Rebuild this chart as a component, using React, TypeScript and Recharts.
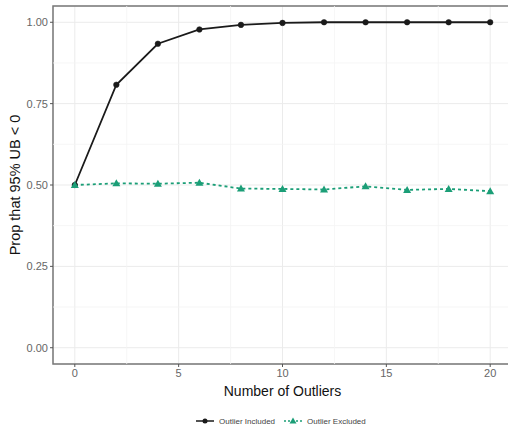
import React from 'react';
import {
  LineChart,
  Line,
  XAxis,
  YAxis,
  CartesianGrid,
  ReferenceLine,
  ReferenceArea,
} from 'recharts';

// Values
const outliers = [0, 2, 4, 6, 8, 10, 12, 14, 16, 18, 20];
const included = [0.5, 0.808, 0.934, 0.978, 0.992, 0.998, 1.0, 1.0, 1.0, 1.0, 1.0];
const excluded = [0.5, 0.505, 0.504, 0.507, 0.489, 0.488, 0.486, 0.496, 0.485, 0.488, 0.481];

const xTicks = [0, 5, 10, 15, 20];
const yTicks = [0, 0.25, 0.5, 0.75, 1];
const xMinor = [2.5, 7.5, 12.5, 17.5];
const yMinor = [0.125, 0.375, 0.625, 0.875];

const data = outliers.map((n, i) => ({ n, included: included[i], excluded: excluded[i] }));

const BLACK = '#1a1a1a';
const GREEN = '#1b9e77';

const Triangle = (props: any) => {
  const { cx, cy } = props;
  if (cx == null || cy == null) return null;
  return <path d={`M${cx},${cy - 4} L${cx + 4},${cy + 3} L${cx - 4},${cy + 3} Z`} fill={GREEN} />;
};

export default function App() {
  return (
    <div style={{ position: 'absolute', left: 0, top: 0, width: 508, height: 430, background: 'white', fontFamily: 'Liberation Sans, Arial, sans-serif' }}>
      <LineChart width={508} height={430} data={data} margin={{ top: 6, right: -4, left: 0, bottom: 0 }}>
        {yMinor.map((v) => (
          <ReferenceLine key={`ym${v}`} y={v} stroke="#f4f4f4" strokeWidth={0.8} />
        ))}
        {xMinor.map((v) => (
          <ReferenceLine key={`xm${v}`} x={v} stroke="#f4f4f4" strokeWidth={0.8} />
        ))}
        <CartesianGrid stroke="#ebebeb" strokeWidth={1} />
        <XAxis
          dataKey="n"
          type="number"
          domain={[-1.05, 21.05]}
          ticks={xTicks}
          allowDataOverflow
          height={66}
          tickSize={3}
          tickLine={{ stroke: '#555' }}
          axisLine={false}
          tick={{ fontSize: 11, fill: '#666' }}
          label={{ value: 'Number of Outliers', position: 'insideTop', offset: 22, style: { fontSize: 14, fill: '#111' } }}
        />
        <YAxis
          type="number"
          domain={[-0.05, 1.05]}
          ticks={yTicks}
          allowDataOverflow
          width={53}
          tickSize={3}
          tickLine={{ stroke: '#555' }}
          axisLine={false}
          tickFormatter={(v: number) => v.toFixed(2)}
          tick={{ fontSize: 11, fill: '#666' }}
          label={{ value: 'Prop that 95% UB < 0', angle: -90, position: 'insideLeft', offset: 15, style: { textAnchor: 'middle', fontSize: 14.5, fill: '#111' } }}
        />
        <ReferenceArea x1={-1.05} x2={21.05} y1={-0.05} y2={1.05} fill="none" stroke="#777" strokeWidth={1.5} />
        <Line
          dataKey="included"
          stroke={BLACK}
          strokeWidth={1.8}
          dot={{ r: 2.8, fill: BLACK, stroke: BLACK, strokeWidth: 0.5 }}
          isAnimationActive={false}
        />
        <Line
          dataKey="excluded"
          stroke={GREEN}
          strokeWidth={1.8}
          strokeDasharray="3 3"
          dot={<Triangle />}
          isAnimationActive={false}
        />
      </LineChart>
      <div style={{ position: 'absolute', top: 416, left: 195, display: 'flex', alignItems: 'center', fontSize: 8, color: '#444', whiteSpace: 'nowrap' }}>
        <svg width={20} height={10}>
          <line x1={1} y1={5} x2={19} y2={5} stroke={BLACK} strokeWidth={1.5} />
          <circle cx={10} cy={5} r={2.5} fill={BLACK} />
        </svg>
        <span style={{ marginLeft: 4 }}>Outlier Included</span>
        <svg width={20} height={10} style={{ marginLeft: 8 }}>
          <line x1={1} y1={5} x2={19} y2={5} stroke={GREEN} strokeWidth={1.5} strokeDasharray="2 2" />
          <path d="M10,1.5 L13.5,7.5 L6.5,7.5 Z" fill={GREEN} />
        </svg>
        <span style={{ marginLeft: 4 }}>Outlier Excluded</span>
      </div>
    </div>
  );
}
